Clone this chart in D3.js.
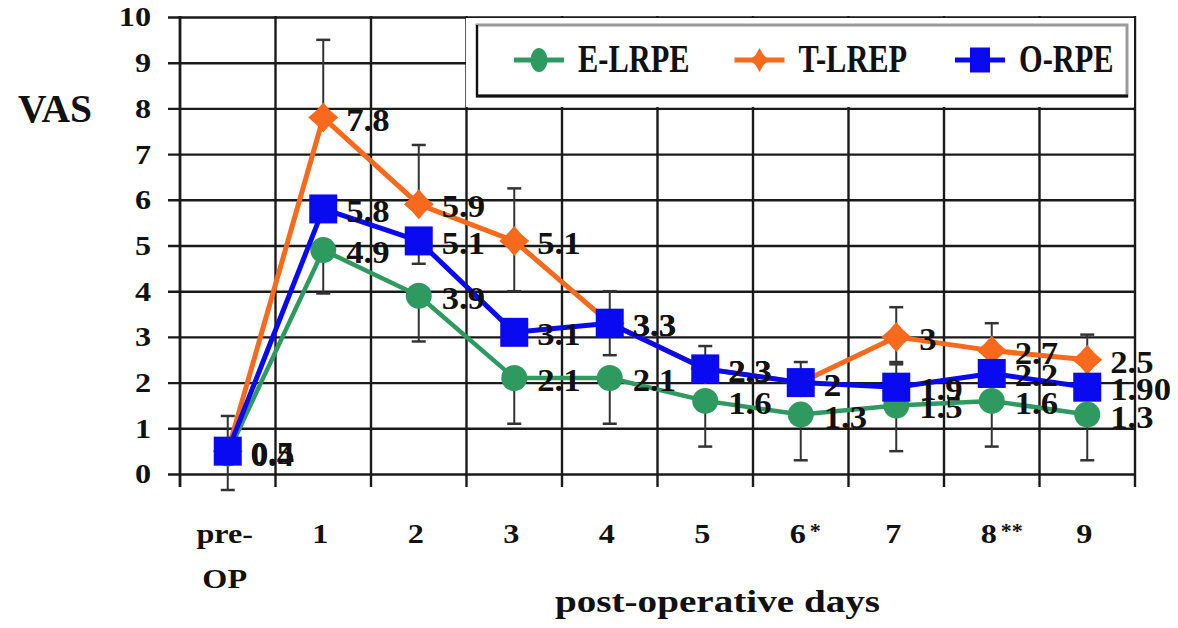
<!DOCTYPE html>
<html>
<head>
<meta charset="utf-8">
<script src="https://cdn.jsdelivr.net/npm/d3@7"></script>
<style>
  body { margin: 0; background: #fff; }
  svg text { font-family: "Liberation Serif", "Times New Roman", serif; font-weight: bold; fill: #111; }
</style>
</head>
<body>
<div id="chart"></div>
<script>
// data
var categories = ["pre-OP", "1", "2", "3", "4", "5", "6", "7", "8", "9"];
var tickRows = [["pre-", "OP"], ["1"], ["2"], ["3"], ["4"], ["5"], ["6"], ["7"], ["8"], ["9"]];
var tickMarks = ["", "", "", "", "", "", "*", "", "**", ""];
var yTicks = [0, 1, 2, 3, 4, 5, 6, 7, 8, 9, 10];

var seriesNames = ["E-LRPE", "T-LREP", "O-RPE"];
var eLrpe = [0.45, 4.9, 3.9, 2.1, 2.1, 1.6, 1.3, 1.5, 1.6, 1.3];
var tLrep = [0.5, 7.8, 5.9, 5.1, 3.3, 2.3, 2.0, 3.0, 2.7, 2.5];
var oRpe  = [0.5, 5.8, 5.1, 3.1, 3.3, 2.3, 2.0, 1.9, 2.2, 1.9];
var eLrpeLabels = ["0.4", "4.9", "3.9", "2.1", "2.1", "1.6", "1.3", "1.5", "1.6", "1.3"];
var tLrepLabels = ["0.5", "7.8", "5.9", "5.1", "3.3", "2.3", "2", "3", "2.7", "2.5"];
var oRpeLabels  = ["0.5", "5.8", "5.1", "3.1", "3.3", "2.3", "2", "1.9", "2.2", "1.90"];
// error bars (plus / minus), null = not shown
var eLrpePlus  = [null, null, null, null, null, null, null, null, null, null];
var eLrpeMinus = [0.8, 0.95, 1.0, 1.0, 1.0, 1.0, 1.0, 1.0, 1.0, 1.0];
var tLrepPlus  = [0.77, 1.7, 1.3, 1.15, null, null, null, 0.65, 0.6, 0.55];
var tLrepMinus = [null, null, null, 1.1, null, null, null, 0.55, null, null];
var oRpePlus   = [null, null, null, null, 0.7, 0.5, 0.45, 0.5, null, null];
var oRpeMinus  = [null, null, 0.5, null, 0.7, null, null, null, null, null];

var colors = ["#2f9a60", "#f7691c", "#0a0af0"];

var svg = d3.select("#chart").append("svg").attr("width", 1178).attr("height", 628);

var plotLeft = 180, plotRight = 1135, plotTop = 17, plotBottom = 474;

var x = d3.scaleBand().domain(categories).range([plotLeft, plotRight]).padding(0);
var y = d3.scaleLinear().domain([0, 10]).range([plotBottom, plotTop]);
var cx = function(d) { return x(d) + x.bandwidth() / 2; };

// widen / narrow a text to match the picture
function stretch(sel, f) {
  sel.each(function() {
    var n = d3.select(this);
    n.attr("textLength", this.getComputedTextLength() * f).attr("lengthAdjust", "spacingAndGlyphs");
  });
}

// horizontal grid + y labels
var yAxis = svg.append("g")
  .attr("transform", "translate(" + (plotLeft - 12) + ",0)")
  .call(d3.axisLeft(y).tickValues(yTicks).tickSize(-(plotRight - plotLeft + 12)).tickPadding(17).tickFormat(d3.format("d")));
yAxis.select(".domain").remove();
yAxis.selectAll(".tick line").attr("stroke", "#1a1a1a").attr("stroke-width", 2.4);
yAxis.selectAll(".tick text").attr("font-size", 28).attr("font-family", null).style("fill", "#111");
stretch(yAxis.selectAll(".tick text"), 1.15);

// vertical grid at band edges
var edges = categories.map(function(d) { return x(d); }).concat([plotRight]);
svg.append("g").selectAll("line")
  .data(edges)
  .enter().append("line")
  .attr("x1", function(d) { return d; })
  .attr("x2", function(d) { return d; })
  .attr("y1", plotTop - 1)
  .attr("y2", plotBottom + 13)
  .attr("stroke", "#1a1a1a")
  .attr("stroke-width", function(d, i) { return i == 0 ? 2.8 : 2.4; });

// legend box (covers grid)
svg.append("rect").attr("x", 466).attr("y", plotTop + 1).attr("width", 668).attr("height", 89).attr("fill", "#fff");
svg.append("rect").attr("x", 477).attr("y", 25).attr("width", 650).attr("height", 71)
  .attr("fill", "#fff").attr("stroke", "#9a9a9a").attr("stroke-width", 3);
svg.append("line").attr("x1", 477).attr("x2", 477).attr("y1", 25).attr("y2", 97).attr("stroke", "#111").attr("stroke-width", 2);
svg.append("line").attr("x1", 476).attr("x2", 1128).attr("y1", 96).attr("y2", 96).attr("stroke", "#111").attr("stroke-width", 3);

var starPath = function(R, r) {
  return "M0," + (-R) + "L" + r + "," + (-r) + "L" + R + ",0L" + r + "," + r +
    "L0," + R + "L" + (-r) + "," + r + "L" + (-R) + ",0L" + (-r) + "," + (-r) + "Z";
};

function drawMarker(g, k, px, py, big) {
  if (k == 0) {
    g.append("ellipse").attr("cx", px).attr("cy", py)
      .attr("rx", big ? 13 : 8.5).attr("ry", big ? 13 : 12).attr("fill", colors[0]);
  } else if (k == 1) {
    g.append("path").attr("d", big ? starPath(15, 7) : starPath(12, 5))
      .attr("transform", "translate(" + px + "," + py + ")" + (big ? "" : " scale(0.8,1)"))
      .attr("fill", colors[1]);
  } else {
    var w = big ? 28 : 20, h = big ? 29 : 25;
    g.append("rect").attr("x", px - w / 2).attr("y", py - h / 2).attr("width", w).attr("height", h).attr("fill", colors[2]);
  }
}

var legend = svg.append("g");
seriesNames.forEach(function(name, i) {
  var mx = 539 + i * 220.5;
  legend.append("line").attr("x1", mx - 25).attr("x2", mx + 25).attr("y1", 60).attr("y2", 60)
    .attr("stroke", colors[i]).attr("stroke-width", 5);
  drawMarker(legend, i, mx, 60, false);
  var t = legend.append("text").attr("x", mx + 39).attr("y", 72).attr("font-size", 40).text(name);
  stretch(t, 0.76);
});

// series
var series = [
  { vals: eLrpe, labels: eLrpeLabels, plus: eLrpePlus, minus: eLrpeMinus, w: 4.5 },
  { vals: tLrep, labels: tLrepLabels, plus: tLrepPlus, minus: tLrepMinus, w: 5 },
  { vals: oRpe,  labels: oRpeLabels,  plus: oRpePlus,  minus: oRpeMinus,  w: 5 }
];

var line = d3.line()
  .x(function(d, i) { return cx(categories[i]); })
  .y(function(d) { return y(d); });

var plot = svg.append("g");
series.forEach(function(s, k) {
  var g = plot.append("g");
  // error bars
  s.vals.forEach(function(v, i) {
    var px = cx(categories[i]);
    [[s.plus[i], 1], [s.minus[i], -1]].forEach(function(e) {
      if (e[0] == null) return;
      var end = y(v + e[1] * e[0]);
      g.append("line").attr("x1", px).attr("x2", px).attr("y1", y(v)).attr("y2", end)
        .attr("stroke", "#333").attr("stroke-width", 2);
      g.append("line").attr("x1", px - 7).attr("x2", px + 7).attr("y1", end).attr("y2", end)
        .attr("stroke", "#333").attr("stroke-width", 2.5);
    });
  });
  g.append("path").datum(s.vals)
    .attr("d", line)
    .attr("fill", "none")
    .attr("stroke", colors[k])
    .attr("stroke-width", s.w)
    .attr("stroke-linejoin", "round");
  s.vals.forEach(function(v, i) { drawMarker(g, k, cx(categories[i]), y(v), true); });
});

// data labels on top
series.forEach(function(s) {
  var lab = plot.append("g").selectAll("text")
    .data(s.vals)
    .enter().append("text")
    .attr("x", function(d, i) { return cx(categories[i]) + 23; })
    .attr("y", function(d) { return y(d) + 13; })
    .attr("font-size", 31)
    .text(function(d, i) { return s.labels[i]; });
  stretch(lab, 1.12);
});

// x tick labels
var xl = svg.append("g").selectAll("g")
  .data(categories)
  .enter().append("g");
xl.each(function(d, i) {
  var g = d3.select(this);
  tickRows[i].forEach(function(row, r) {
    var t = g.append("text").attr("x", cx(d) - 3).attr("y", 543 + r * 45)
      .attr("text-anchor", "middle").attr("font-size", 28).text(row);
    stretch(t, 1.15);
  });
  if (tickMarks[i]) {
    g.append("text").attr("x", cx(d) + 9).attr("y", 538)
      .attr("font-size", 22).text(tickMarks[i]);
  }
});

// axis titles
var vas = svg.append("text").attr("x", 18).attr("y", 122).attr("font-size", 40).text("VAS");
vas.attr("textLength", 74).attr("lengthAdjust", "spacingAndGlyphs");
svg.append("text").attr("x", 555).attr("y", 612).attr("font-size", 32)
  .attr("textLength", 325).attr("lengthAdjust", "spacingAndGlyphs")
  .text("post-operative days");
</script>
</body>
</html>
